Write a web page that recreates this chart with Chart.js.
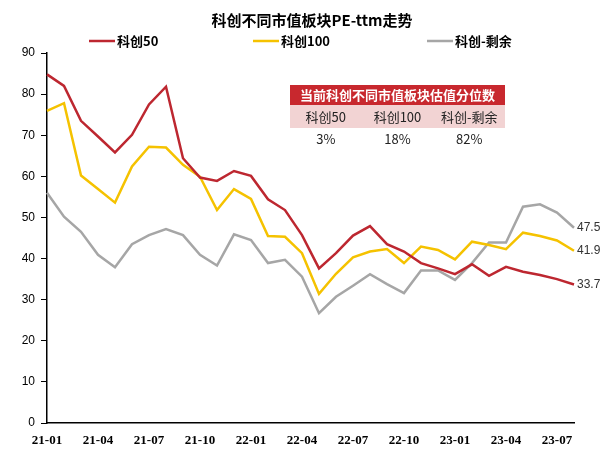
<!DOCTYPE html>
<html>
<head>
<meta charset="utf-8">
<script src="https://cdn.jsdelivr.net/npm/chart.js@4"></script>
<style>
  body { margin: 0; background: #fff; }
  #wrap { position: relative; width: 605px; height: 450px; }
  #pct {
    position: absolute; left: 290px; top: 85px; width: 215px;
    border-collapse: collapse; font-family: "Noto Sans CJK SC", sans-serif; font-size: 13px;
    color: #222; table-layout: fixed;
  }
  #pct td { text-align: center; padding: 0; }
  #pct .head td { background: #c8282e; color: #fff; font-weight: bold; height: 20px; line-height: 20px; }
  #pct .names td { background: #f2d3d3; height: 23px; line-height: 23px; }
  #pct .vals td { height: 21px; line-height: 21px; }
</style>
</head>
<body>
<div id="wrap">
  <canvas id="c" width="605" height="450"></canvas>
  <table id="pct">
    <tr class="head"><td colspan="3" id="pctTitle"></td></tr>
    <tr class="names"></tr>
    <tr class="vals"></tr>
  </table>
</div>
<script>
// 月份
const months = ["21-01","21-02","21-03","21-04","21-05","21-06","21-07","21-08","21-09","21-10","21-11","21-12",
  "22-01","22-02","22-03","22-04","22-05","22-06","22-07","22-08","22-09","22-10","22-11","22-12",
  "23-01","23-02","23-03","23-04","23-05","23-06","23-07","23-08"];

const kc50 = [84.8, 82.0, 73.5, 69.7, 65.8, 70.1, 77.5, 81.8, 64.4, 59.7, 58.9, 61.3, 60.1, 54.4, 51.8, 45.7,
  37.6, 41.3, 45.6, 47.9, 43.5, 41.7, 38.9, 37.6, 36.2, 38.6, 35.8, 38.0, 36.8, 36.0, 35.0, 33.7];
const kc100 = [75.9, 77.8, 60.2, 56.9, 53.6, 62.4, 67.2, 67.0, 62.8, 59.9, 51.8, 56.9, 54.5, 45.5, 45.3, 41.3,
  31.4, 36.3, 40.3, 41.7, 42.3, 38.9, 42.9, 42.1, 39.8, 44.1, 43.3, 42.3, 46.3, 45.5, 44.4, 41.9];
const kcRest = [56.0, 50.2, 46.5, 40.9, 37.9, 43.5, 45.7, 47.2, 45.7, 40.9, 38.3, 45.9, 44.5, 38.9, 39.7, 35.6,
  26.7, 30.7, 33.4, 36.2, 33.8, 31.6, 37.1, 37.1, 34.8, 38.9, 43.9, 43.9, 52.6, 53.2, 51.2, 47.5];

const seriesNames = ["科创50", "科创100", "科创-剩余"];
const seriesColors = ["#bd2730", "#f5c200", "#a6a6a6"];

// 分位数表格
const tableTitle = "当前科创不同市值板块估值分位数";
const tableNames = ["科创50", "科创100", "科创-剩余"];
const tablePct = ["3%", "18%", "82%"];

document.getElementById("pctTitle").textContent = tableTitle;
const namesRow = document.querySelector("#pct .names");
const valsRow = document.querySelector("#pct .vals");
tableNames.forEach((n, i) => {
  const a = document.createElement("td"); a.textContent = n; namesRow.appendChild(a);
  const b = document.createElement("td"); b.textContent = tablePct[i]; valsRow.appendChild(b);
});

const cjk = '"Noto Sans CJK SC", sans-serif';

// 标题、图例、末端数值
const decorPlugin = {
  id: "decor",
  afterDraw(chart) {
    const ctx = chart.ctx;
    ctx.save();
    ctx.fillStyle = "#000";
    ctx.font = "bold 15px " + cjk;
    ctx.textAlign = "center";
    ctx.textBaseline = "middle";
    ctx.fillText("科创不同市值板块PE-ttm走势", 312, 20);

    const legendX = [89, 253, 427];
    ctx.font = "bold 13px " + cjk;
    ctx.textAlign = "left";
    chart.data.datasets.forEach((ds, i) => {
      ctx.strokeStyle = ds.borderColor;
      ctx.lineWidth = 2.5;
      ctx.beginPath();
      ctx.moveTo(legendX[i], 41);
      ctx.lineTo(legendX[i] + 26, 41);
      ctx.stroke();
      ctx.fillStyle = "#000";
      ctx.fillText(ds.label, legendX[i] + 28, 41);
    });

    ctx.font = "12px 'Liberation Sans', sans-serif";
    ctx.fillStyle = "#333";
    chart.data.datasets.forEach((ds, i) => {
      const meta = chart.getDatasetMeta(i);
      const pt = meta.data[meta.data.length - 1];
      ctx.fillText(ds.data[ds.data.length - 1].toFixed(1), pt.x + 3, pt.y);
    });
    ctx.restore();
  }
};

new Chart(document.getElementById("c"), {
  type: "line",
  data: {
    labels: months,
    datasets: [kc50, kc100, kcRest].map((d, i) => ({
      label: seriesNames[i],
      data: d,
      borderColor: seriesColors[i],
      backgroundColor: seriesColors[i],
      borderWidth: 2.5,
      pointRadius: 0,
      tension: 0,
      fill: false
    }))
  },
  options: {
    responsive: false,
    animation: false,
    layout: { padding: { left: 0, top: 53, right: 31, bottom: 0 } },
    plugins: {
      legend: { display: false },
      title: { display: false },
      tooltip: { enabled: false }
    },
    scales: {
      x: {
        offset: false,
        grid: { display: false },
        border: { display: true, color: "#000", width: 1.5 },
        ticks: {
          autoSkip: false,
          maxRotation: 0,
          padding: 2,
          color: "#000",
          font: { family: "'Liberation Serif', serif", size: 13, weight: "bold" },
          callback: (v, i) => (i % 3 === 0 ? months[i] : "")
        },
        afterFit: (s) => { s.height = 27; }
      },
      y: {
        min: 0,
        max: 90,
        grid: { display: true, drawOnChartArea: false, tickLength: 6, color: "#000" },
        border: { display: true, color: "#000", width: 1.5 },
        ticks: {
          stepSize: 10,
          padding: 6,
          color: "#000",
          font: { family: "'Liberation Sans', sans-serif", size: 12 }
        },
        afterFit: (s) => { s.width = 47; }
      }
    }
  },
  plugins: [decorPlugin]
});
</script>
</body>
</html>
